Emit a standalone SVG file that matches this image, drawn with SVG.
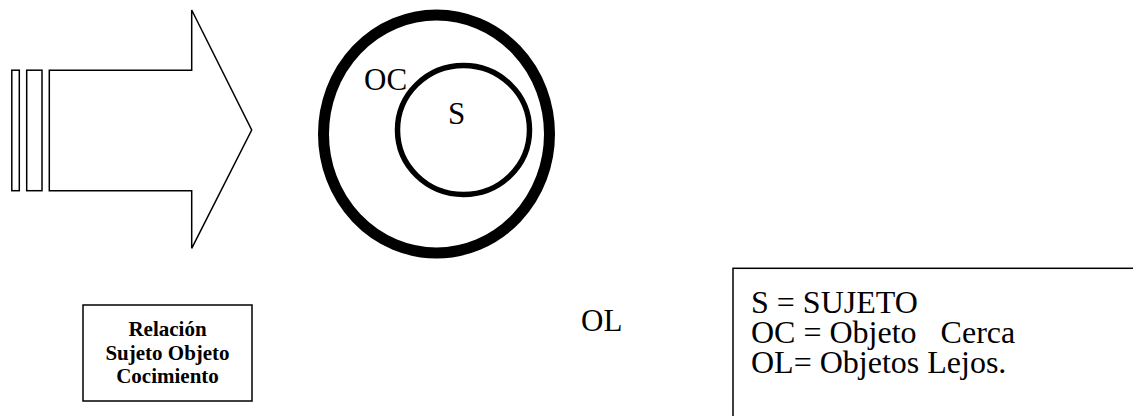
<svg xmlns="http://www.w3.org/2000/svg" width="1133" height="416" viewBox="0 0 1133 416">
<style>
.ln{fill:#fff;stroke:#000;stroke-width:1.5}
.t{font-family:"Liberation Serif","Times New Roman",serif;font-size:31px;fill:#000}
.lg{font-size:32px}
.b{font-family:"Liberation Serif","Times New Roman",serif;font-size:21px;font-weight:bold;fill:#000;text-anchor:middle}
</style>
<rect width="1133" height="416" fill="#fff"/>
<g id="arrow">
<rect class="ln" x="11.8" y="70.2" width="7.5" height="120.5"/>
<rect class="ln" x="26.7" y="70.2" width="15.3" height="120.5"/>
<path class="ln" d="M49.3,70.2 H191.7 V10 L251.7,130 L191.7,248.3 V190.7 H49.3 Z"/>
</g>
<g id="outer-circle">
<ellipse cx="436.5" cy="134" rx="113" ry="119" fill="none" stroke="#000" stroke-width="11"/>
<text class="t" x="364" y="90">OC</text>
</g>
<g id="inner-circle">
<ellipse cx="463.5" cy="130" rx="66" ry="64.5" fill="none" stroke="#000" stroke-width="5.5"/>
<text class="t" x="448" y="124">S</text>
</g>
<g id="label-box">
<rect class="ln" x="83" y="305" width="169" height="96"/>
<text class="b" x="167.5" y="336">Relación</text>
<text class="b" x="167.5" y="359.5">Sujeto Objeto</text>
<text class="b" x="167.5" y="383">Cocimiento</text>
</g>
<g id="ol">
<text class="t" x="581" y="331">OL</text>
</g>
<g id="legend">
<rect class="ln" x="733" y="268.3" width="500" height="200"/>
<text class="t lg" x="751" y="313" xml:space="preserve">S = SUJETO</text>
<text class="t lg" x="751" y="343" xml:space="preserve">OC = Objeto   Cerca</text>
<text class="t lg" x="751" y="373" xml:space="preserve">OL= Objetos Lejos.</text>
</g>
<g id="connectors"></g>
</svg>
